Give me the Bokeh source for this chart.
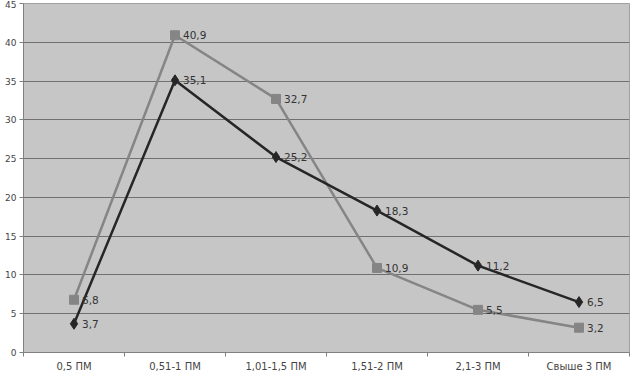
from bokeh.plotting import figure
from bokeh.models import Range1d, FixedTicker, ColumnDataSource
from bokeh.core.properties import value
from bokeh.embed import file_html
from bokeh.resources import INLINE

categories = ["0,5 ПМ", "0,51-1 ПМ", "1,01-1,5 ПМ", "1,51-2 ПМ", "2,1-3 ПМ", "Свыше 3 ПМ"]
series_gray = [6.8, 40.9, 32.7, 10.9, 5.5, 3.2]
series_black = [3.7, 35.1, 25.2, 18.3, 11.2, 6.5]
y_ticks = [0, 5, 10, 15, 20, 25, 30, 35, 40, 45]

FONT = "DejaVu Sans"
xs = [i + 0.5 for i in range(len(categories))]

def fmt(v):
    return ("%.1f" % v).replace(".", ",")

p = figure(width=631, height=374, output_backend="svg", toolbar_location=None,
           x_range=Range1d(0, len(categories)), y_range=Range1d(0, 45),
           min_border_left=23, min_border_right=2, min_border_top=3, min_border_bottom=10)
p.background_fill_color = "#c6c6c6"
p.border_fill_color = "white"
p.outline_line_color = "#a0a0a0"
p.outline_line_width = 1

p.xgrid.visible = False
p.ygrid.ticker = FixedTicker(ticks=y_ticks)
p.ygrid.grid_line_color = "#707070"
p.ygrid.grid_line_width = 1

p.yaxis.ticker = FixedTicker(ticks=y_ticks)
p.yaxis.axis_line_color = "#808080"
p.yaxis.major_tick_line_color = "#808080"
p.yaxis.major_tick_out = 4
p.yaxis.major_tick_in = 0
p.yaxis.minor_tick_line_color = None
p.yaxis.major_label_text_font = FONT
p.yaxis.major_label_text_font_size = "9px"
p.yaxis.major_label_text_color = "#444444"
p.yaxis.major_label_standoff = 3

p.xaxis.ticker = FixedTicker(ticks=xs, minor_ticks=list(range(len(categories) + 1)))
p.xaxis.major_label_overrides = {x: c for x, c in zip(xs, categories)}
p.xaxis.axis_line_color = "#808080"
p.xaxis.major_tick_line_color = None
p.xaxis.major_tick_out = 0
p.xaxis.major_tick_in = 0
p.xaxis.minor_tick_line_color = "#808080"
p.xaxis.minor_tick_out = 4
p.xaxis.minor_tick_in = 0
p.xaxis.major_label_text_font = FONT
p.xaxis.major_label_text_font_size = "10px"
p.xaxis.major_label_text_color = "#444444"
p.xaxis.major_label_standoff = 4

src_g = ColumnDataSource(dict(x=xs, y=series_gray, t=[fmt(v) for v in series_gray]))
src_b = ColumnDataSource(dict(x=xs, y=series_black, t=[fmt(v) for v in series_black]))

p.line("x", "y", source=src_g, line_color="#858585", line_width=2.5)
p.line("x", "y", source=src_b, line_color="#262626", line_width=2.5)
p.scatter("x", "y", source=src_g, marker="square", size=9, fill_color="#858585", line_color="#858585")
p.scatter("x", "y", source=src_b, marker="diamond", size=11, fill_color="#262626", line_color="#262626")

for src in (src_g, src_b):
    p.text("x", "y", text="t", source=src, x_offset=8, y_offset=0,
           text_font=value(FONT), text_font_size="10.5px", text_color="#333333",
           text_baseline="middle", text_align="left")

open("out.html", "w").write(file_html(p, INLINE))
